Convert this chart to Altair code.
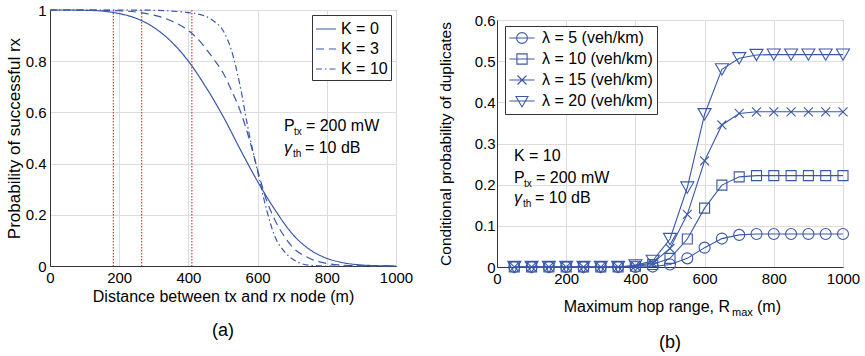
import altair as alt
import pandas as pd

FONT = "Liberation Sans"
BLUE = "#3a58a8"
RED = "#e8262b"
GRID = "#dcdcdc"
AXC = "#333333"

# ---------------- (a) data ----------------
k_series = ["K = 0", "K = 3", "K = 10"]
dist_k0 = [0, 50, 100, 150, 200, 250, 300, 350, 400, 450, 500, 550, 600, 650, 700, 750, 800, 850, 900, 950, 1000]
prob_k0 = [1.0, 1.0, 0.999, 0.996, 0.986, 0.967, 0.932, 0.877, 0.800, 0.700, 0.585, 0.455, 0.330, 0.220, 0.126, 0.065, 0.030, 0.012, 0.004, 0.001, 0.0]
dist_k3 = [0, 50, 100, 150, 200, 250, 300, 350, 400, 425, 450, 475, 500, 525, 550, 575, 600, 625, 650, 675, 700, 750, 800, 850, 900, 1000]
prob_k3 = [1.0, 1.0, 1.0, 0.999, 0.997, 0.992, 0.980, 0.958, 0.920, 0.890, 0.850, 0.805, 0.755, 0.685, 0.605, 0.500, 0.375, 0.260, 0.180, 0.120, 0.075, 0.030, 0.010, 0.003, 0.001, 0.0]
dist_k10 = [0, 100, 200, 300, 350, 400, 425, 450, 475, 500, 525, 550, 575, 600, 625, 650, 675, 700, 725, 750, 800, 900, 1000]
prob_k10 = [1.0, 1.0, 1.0, 0.999, 0.996, 0.990, 0.985, 0.975, 0.955, 0.920, 0.840, 0.700, 0.520, 0.370, 0.225, 0.115, 0.060, 0.028, 0.010, 0.003, 0.0, 0.0, 0.0]
red_lines = [183, 265, 410]
ticks_a_x = [0, 200, 400, 600, 800, 1000]
ticks_a_y = [0, 0.2, 0.4, 0.6, 0.8, 1]

# ---------------- (b) data ----------------
lam_series = ["λ = 5 (veh/km)", "λ = 10 (veh/km)", "λ = 15 (veh/km)", "λ = 20 (veh/km)"]
hop_range = [50, 100, 150, 200, 250, 300, 350, 400, 450, 500, 550, 600, 650, 700, 750, 800, 850, 900, 950, 1000]
dup_l5 = [0, 0, 0, 0, 0, 0, 0, 0.0, 0.001, 0.006, 0.021, 0.047, 0.069, 0.078, 0.080, 0.080, 0.080, 0.080, 0.080, 0.080]
dup_l10 = [0, 0, 0, 0, 0, 0, 0, 0.002, 0.006, 0.021, 0.068, 0.143, 0.199, 0.219, 0.222, 0.222, 0.222, 0.222, 0.222, 0.222]
dup_l15 = [0, 0, 0, 0, 0, 0, 0, 0.003, 0.010, 0.045, 0.128, 0.258, 0.345, 0.373, 0.377, 0.377, 0.377, 0.377, 0.377, 0.377]
dup_l20 = [0, 0, 0, 0, 0, 0, 0, 0.004, 0.015, 0.068, 0.193, 0.371, 0.480, 0.507, 0.515, 0.516, 0.516, 0.516, 0.516, 0.516]
ticks_b_x = [0, 200, 400, 600, 800, 1000]
ticks_b_y = [0, 0.1, 0.2, 0.3, 0.4, 0.5, 0.6]

W, H_A, H_B = 346, 256, 247


def frame(xs, ys, name):
    return pd.DataFrame({"x": xs, "y": ys, "s": name})


def note(text, x=None, y=None, xv=None, yv=None, size=16, dx=0, dy=0, italic=False, align="left"):
    df = pd.DataFrame({"x": [x if x is not None else 0], "y": [y if y is not None else 0]})
    kw = dict(text=text, font=FONT, fontSize=size, dx=dx, dy=dy, align=align,
              baseline="alphabetic", color="black")
    if italic:
        kw["fontStyle"] = "italic"
    enc = {}
    enc["x"] = alt.value(xv) if xv is not None else alt.X("x:Q")
    enc["y"] = alt.value(yv) if yv is not None else alt.Y("y:Q")
    return alt.Chart(df).mark_text(**kw).encode(**enc)


# ---------------- chart (a) ----------------
df_a = pd.concat([frame(dist_k0, prob_k0, k_series[0]),
                  frame(dist_k3, prob_k3, k_series[1]),
                  frame(dist_k10, prob_k10, k_series[2])])

x_a = alt.X("x:Q", scale=alt.Scale(domain=[0, 1000], nice=False),
            axis=alt.Axis(values=ticks_a_x, format="d", title="Distance between tx and rx node (m)",
                          titleFontSize=16, labelPadding=4, titlePadding=3, labelFlush=False))
y_a = alt.Y("y:Q", scale=alt.Scale(domain=[0, 1], nice=False),
            axis=alt.Axis(values=ticks_a_y, format="~g", title="Probability of successful rx",
                          titleFontSize=17, labelPadding=4, titlePadding=2, labelFlush=False))

rules_a = alt.Chart(pd.DataFrame({"x": red_lines})).mark_rule(
    color=RED, strokeDash=[1.5, 1.5], strokeWidth=1.1).encode(x=x_a)

lines_a = alt.Chart(df_a).mark_line(color=BLUE, strokeWidth=1.2, interpolate="monotone").encode(
    x=x_a, y=y_a,
    strokeDash=alt.StrokeDash(
        "s:N", sort=k_series,
        scale=alt.Scale(domain=k_series, range=[[1, 0], [8, 5], [6, 3, 1.5, 3]]),
        legend=alt.Legend(title=None, orient="none", legendX=262, legendY=5,
                          fillColor="white", strokeColor=AXC, padding=3,
                          labelFontSize=16, labelFont=FONT, labelColor="black",
                          symbolStrokeColor=BLUE, symbolStrokeWidth=1.2, symbolSize=400,
                          symbolType="stroke", rowPadding=1, labelOffset=4)))

notes_a = [
    note("P", x=676, y=0.527),
    note("tx", x=676, y=0.527, size=10, dx=10, dy=4),
    note("= 200 mW", x=676, y=0.527, dx=22),
    note("γ", x=676, y=0.441, italic=True),
    note("th", x=676, y=0.441, size=10, dx=9, dy=4),
    note("= 10 dB", x=676, y=0.441, dx=21),
]

chart_a = alt.layer(rules_a, lines_a, *notes_a).properties(
    width=W, height=H_A,
    title=alt.TitleParams("(a)", orient="bottom", fontSize=18, fontWeight="normal",
                          font=FONT, frame="group", offset=18, color="black"))

# ---------------- chart (b) ----------------
df_b = pd.concat([frame(hop_range, dup_l5, lam_series[0]),
                  frame(hop_range, dup_l10, lam_series[1]),
                  frame(hop_range, dup_l15, lam_series[2]),
                  frame(hop_range, dup_l20, lam_series[3])])

x_b = alt.X("x:Q", scale=alt.Scale(domain=[0, 1000], nice=False),
            axis=alt.Axis(values=ticks_b_x, format="d", title=None, labelPadding=4, labelFlush=False))
y_b = alt.Y("y:Q", scale=alt.Scale(domain=[0, 0.6], nice=False),
            axis=alt.Axis(values=ticks_b_y, format="~g", title="Conditional probability of duplicates",
                          titleFontSize=15.5, labelPadding=2, titlePadding=21, labelFlush=False))

lines_b = alt.Chart(df_b).mark_line(color=BLUE, strokeWidth=1.1).encode(
    x=x_b, y=y_b, detail="s:N")

marker_shapes = ["circle", "square", "M-1,-1L1,1M-1,1L1,-1", "triangle-down"]
marker_sizes = [121, 100, 80, 170]
pts_b = [
    alt.Chart(df_b).transform_filter(alt.datum.s == name).mark_point(
        filled=False, color=BLUE, strokeWidth=1.1, shape=shp, size=sz, opacity=1).encode(x="x:Q", y="y:Q")
    for name, shp, sz in zip(lam_series, marker_shapes, marker_sizes)
]

legend_paths = [
    "M-2.1,0L2.1,0M-0.9,0A0.9,0.9,0,1,0,0.9,0A0.9,0.9,0,1,0,-0.9,0",
    "M-2.1,0L2.1,0M-0.85,-0.85L0.85,-0.85L0.85,0.85L-0.85,0.85Z",
    "M-2.1,0L2.1,0M-0.75,-0.75L0.75,0.75M-0.75,0.75L0.75,-0.75",
    "M-2.1,0L2.1,0M-1,-0.75L1,-0.75L0,1Z",
]
leg_b = alt.Chart(df_b).mark_point(filled=False, color=BLUE, opacity=0, strokeWidth=1.1).encode(
    x="x:Q", y="y:Q",
    shape=alt.Shape("s:N", sort=lam_series,
                    scale=alt.Scale(domain=lam_series, range=legend_paths),
                    legend=alt.Legend(title=None, orient="none", legendX=8, legendY=6,
                                      fillColor="white", strokeColor=AXC, padding=4,
                                      labelFontSize=16, labelFont=FONT, labelColor="black",
                                      symbolStrokeColor=BLUE, symbolStrokeWidth=1.1,
                                      symbolFillColor="transparent",
                                      symbolSize=144, symbolOpacity=1, symbolOffset=5,
                                      rowPadding=5, labelOffset=12)))

notes_b = [
    note("K = 10", x=49, y=0.257),
    note("P", x=49, y=0.204),
    note("tx", x=49, y=0.204, size=10, dx=10, dy=4),
    note("= 200 mW", x=49, y=0.204, dx=22),
    note("γ", x=49, y=0.155, italic=True),
    note("th", x=49, y=0.155, size=10, dx=9, dy=4),
    note("= 10 dB", x=49, y=0.155, dx=21),
    note("Maximum hop range, R", xv=233, yv=H_B + 45, size=16, align="right"),
    note("max", xv=235, yv=H_B + 45, size=11, dy=4),
    note("(m)", xv=260, yv=H_B + 45, size=16),
]

chart_b = alt.layer(lines_b, *pts_b, leg_b, *notes_b).resolve_scale(shape="independent").properties(
    width=W, height=H_B,
    title=alt.TitleParams("(b)", orient="bottom", fontSize=18, fontWeight="normal",
                          font=FONT, frame="group", offset=16, color="black"))

spacer = alt.Chart(pd.DataFrame({"x": [0]})).mark_rule(opacity=0, strokeWidth=0).encode(
    x=alt.value(0), y=alt.value(0), y2=alt.value(0)).properties(
    width=10, height=1, view=alt.ViewBackground(stroke="transparent"))

chart = alt.hconcat(chart_a, alt.vconcat(spacer, chart_b, spacing=0), spacing=23).properties(
    padding={"left": 4, "top": 2, "right": 2, "bottom": 0}
).configure_view(stroke=AXC, strokeWidth=1).configure_axis(
    grid=True, gridColor=GRID, gridWidth=1, domainColor=AXC, domainWidth=1, ticks=False,
    labelFont=FONT, labelFontSize=15, labelColor="black",
    titleFont=FONT, titleFontWeight="normal", titleColor="black"
)

chart.save("out.html", embed_options={"renderer": "svg", "actions": False})
